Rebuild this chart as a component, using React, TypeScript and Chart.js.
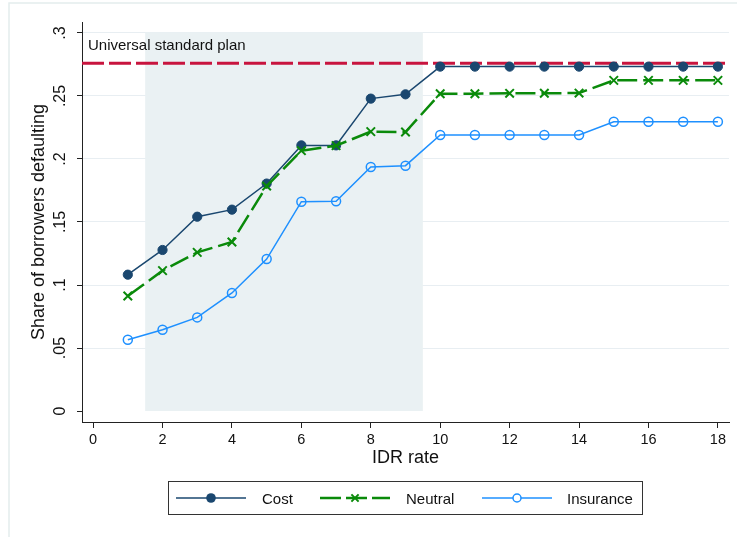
import React, { useEffect, useRef } from 'react';
import { Chart, registerables } from 'chart.js';

Chart.register(...registerables);

// ---- data ----
const idrRates = [1, 2, 3, 4, 5, 6, 7, 8, 9, 10, 11, 12, 13, 14, 15, 16, 17, 18];
const costShare = [0.1082, 0.1278, 0.1542, 0.1598, 0.1805, 0.2108, 0.2108, 0.2479, 0.2513, 0.2733, 0.2733, 0.2733, 0.2733, 0.2733, 0.2733, 0.2733, 0.2733, 0.2733];
const neutralShare = [0.0913, 0.1114, 0.1259, 0.1341, 0.1785, 0.2066, 0.2106, 0.2217, 0.2214, 0.2518, 0.2518, 0.2521, 0.2522, 0.2523, 0.2624, 0.2624, 0.2624, 0.2624];
const insuranceShare = [0.0566, 0.0645, 0.0743, 0.0937, 0.1206, 0.1661, 0.1664, 0.1937, 0.1947, 0.219, 0.219, 0.2191, 0.2191, 0.2191, 0.2296, 0.2296, 0.2296, 0.2296];
const universalStandardPlan = 0.276;
const universalLabel = 'Universal standard plan';
const shadedFrom = 1.5;
const shadedTo = 9.5;
const shadedTop = 0.3;
const xTickValues = [0, 2, 4, 6, 8, 10, 12, 14, 16, 18];
const yTickValues = [0, 0.05, 0.1, 0.15, 0.2, 0.25, 0.3];
const yTickLabels = ['0', '.05', '.1', '.15', '.2', '.25', '.3'];
const seriesNames = ['Cost', 'Neutral', 'Insurance'];
const xTitle = 'IDR rate';
const yTitle = 'Share of borrowers defaulting';
const xMin = -0.32;
const xMax = 18.32;
const yMin = -0.0087;
const yMax = 0.3087;

const FONT = '"Liberation Sans", Arial, sans-serif';
const NAVY = '#1a476f';
const GREEN = '#0a8a0a';
const BLUE = '#1e90ff';
const RED = '#c8143e';
const SHADE = '#eaf1f3';
const GRID = '#e8eef2';
const AXIS = '#222222';

const pts = (ys: number[]) => idrRates.map((x, i) => ({ x, y: ys[i] }));

const decorPlugin = {
  id: 'decor',
  beforeDraw(chart: any) {
    const { ctx } = chart;
    ctx.save();
    ctx.fillStyle = '#ffffff';
    ctx.fillRect(0, 0, chart.width, chart.height);
    ctx.strokeStyle = '#e4eded';
    ctx.lineWidth = 1.5;
    ctx.strokeRect(9, 3, chart.width + 20, chart.height + 20);
    ctx.restore();
  },
  beforeDatasetsDraw(chart: any) {
    const { ctx } = chart;
    const xs = chart.scales.x;
    const ys = chart.scales.y;
    const x0 = xs.getPixelForValue(shadedFrom);
    const x1 = xs.getPixelForValue(shadedTo);
    const y0 = ys.getPixelForValue(shadedTop) - 0.7;
    const y1 = ys.getPixelForValue(0);
    ctx.save();
    ctx.fillStyle = SHADE;
    ctx.fillRect(x0, y0, x1 - x0, y1 - y0);
    ctx.restore();
  },
  afterDraw(chart: any) {
    const { ctx, chartArea } = chart;
    const ys = chart.scales.y;
    ctx.save();
    ctx.fillStyle = '#111';
    // y tick labels (rotated)
    ctx.font = `16px ${FONT}`;
    ctx.textAlign = 'center';
    ctx.textBaseline = 'alphabetic';
    yTickValues.forEach((v, i) => {
      const py = ys.getPixelForValue(v);
      ctx.save();
      ctx.translate(65, py);
      ctx.rotate(-Math.PI / 2);
      ctx.fillText(yTickLabels[i], 0, 0);
      ctx.restore();
    });
    // y title
    ctx.save();
    ctx.font = `18px ${FONT}`;
    ctx.translate(44, (chartArea.top + chartArea.bottom) / 2);
    ctx.rotate(-Math.PI / 2);
    ctx.fillText(yTitle, 0, 0);
    ctx.restore();
    // x title
    ctx.font = `18px ${FONT}`;
    ctx.fillText(xTitle, (chartArea.left + chartArea.right) / 2, 463);
    // universal standard plan label
    ctx.font = `15px ${FONT}`;
    ctx.textAlign = 'left';
    ctx.fillText(universalLabel, chartArea.left + 6, ys.getPixelForValue(universalStandardPlan) - 13);

    // legend
    const bx = 168.5, by = 481.5, bw = 474, bh = 33;
    ctx.strokeStyle = '#333';
    ctx.lineWidth = 1;
    ctx.strokeRect(bx, by, bw, bh);
    const cy = by + bh / 2;
    const items = [
      { l: 176, color: NAVY, dash: [] as number[], lw: 1.5, marker: 'fill', text: 262 },
      { l: 320, color: GREEN, dash: [21, 5], lw: 2.5, marker: 'x', text: 406 },
      { l: 482, color: BLUE, dash: [] as number[], lw: 1.5, marker: 'hollow', text: 567 },
    ];
    items.forEach((it, i) => {
      ctx.save();
      ctx.strokeStyle = it.color;
      ctx.lineWidth = it.lw;
      ctx.setLineDash(it.dash);
      ctx.beginPath();
      ctx.moveTo(it.l, cy);
      ctx.lineTo(it.l + 70, cy);
      ctx.stroke();
      ctx.setLineDash([]);
      const mx = it.l + 35;
      if (it.marker === 'fill') {
        ctx.fillStyle = it.color;
        ctx.beginPath();
        ctx.arc(mx, cy, 4.8, 0, Math.PI * 2);
        ctx.fill();
      } else if (it.marker === 'hollow') {
        ctx.fillStyle = '#fff';
        ctx.lineWidth = 1.5;
        ctx.beginPath();
        ctx.arc(mx, cy, 4, 0, Math.PI * 2);
        ctx.fill();
        ctx.stroke();
      } else {
        ctx.lineWidth = 2;
        const r = 3.6;
        ctx.beginPath();
        ctx.moveTo(mx - r, cy - r);
        ctx.lineTo(mx + r, cy + r);
        ctx.moveTo(mx - r, cy + r);
        ctx.lineTo(mx + r, cy - r);
        ctx.stroke();
      }
      ctx.restore();
      ctx.fillStyle = '#111';
      ctx.font = `15px ${FONT}`;
      ctx.textAlign = 'left';
      ctx.fillText(seriesNames[i], it.text, cy + 5.5);
    });
    ctx.restore();
  },
};

export default function App() {
  const ref = useRef<HTMLCanvasElement | null>(null);
  useEffect(() => {
    if (!ref.current) return;
    const chart = new Chart(ref.current, {
      type: 'line',
      data: {
        datasets: [
          {
            label: universalLabel,
            data: [{ x: xMin, y: universalStandardPlan }, { x: xMax, y: universalStandardPlan }],
            borderColor: RED,
            borderWidth: 3,
            borderDash: [22, 5],
            pointRadius: 0,
            order: 4,
          },
          {
            label: seriesNames[0],
            data: pts(costShare),
            borderColor: NAVY,
            backgroundColor: NAVY,
            borderWidth: 1.5,
            pointRadius: 4.6,
            pointBorderWidth: 1,
            pointBackgroundColor: NAVY,
            pointBorderColor: NAVY,
            order: 3,
          },
          {
            label: seriesNames[1],
            data: pts(neutralShare),
            borderColor: GREEN,
            borderWidth: 2.5,
            borderDash: [20, 6],
            pointStyle: 'crossRot',
            pointRadius: 6,
            pointBorderWidth: 2,
            pointBorderColor: GREEN,
            order: 2,
          },
          {
            label: seriesNames[2],
            data: pts(insuranceShare),
            borderColor: BLUE,
            borderWidth: 1.5,
            pointRadius: 4.5,
            pointBorderWidth: 1.5,
            pointBorderColor: BLUE,
            pointBackgroundColor: 'rgba(0,0,0,0)',
            order: 1,
          },
        ],
      } as any,
      options: {
        responsive: false,
        animation: false,
        devicePixelRatio: 1,
        events: [],
        layout: { padding: { left: 0, top: 22, right: 8, bottom: 0 } },
        plugins: { legend: { display: false }, tooltip: { enabled: false }, title: { display: false } },
        elements: { line: { tension: 0 } },
        scales: {
          x: {
            type: 'linear',
            min: xMin,
            max: xMax,
            afterBuildTicks: (s: any) => {
              s.ticks = xTickValues.map((v) => ({ value: v }));
            },
            afterFit: (s: any) => {
              s.height = 115;
            },
            ticks: {
              font: { family: FONT, size: 14.5 },
              color: '#111',
              padding: 3,
              maxRotation: 0,
              callback: (v: any) => String(v),
            },
            grid: { drawOnChartArea: false, drawTicks: true, tickLength: 6, tickColor: AXIS, tickWidth: 1 },
            border: { display: true, color: AXIS, width: 1 },
          },
          y: {
            type: 'linear',
            min: yMin,
            max: yMax,
            afterBuildTicks: (s: any) => {
              s.ticks = yTickValues.map((v) => ({ value: v }));
            },
            afterFit: (s: any) => {
              s.width = 82;
            },
            ticks: { display: false },
            grid: {
              color: (c: any) => (c.tick && c.tick.value === 0 ? 'rgba(0,0,0,0)' : GRID),
              lineWidth: 1,
              drawTicks: true,
              tickLength: 5,
              tickColor: AXIS,
              tickWidth: 1,
            },
            border: { display: true, color: AXIS, width: 1 },
          },
        },
      } as any,
      plugins: [decorPlugin],
    });
    return () => chart.destroy();
  }, []);
  return (
    <div style={{ position: 'absolute', left: 0, top: 0, width: 737, height: 537 }}>
      <canvas ref={ref} width={737} height={537} style={{ display: 'block' }} />
    </div>
  );
}
